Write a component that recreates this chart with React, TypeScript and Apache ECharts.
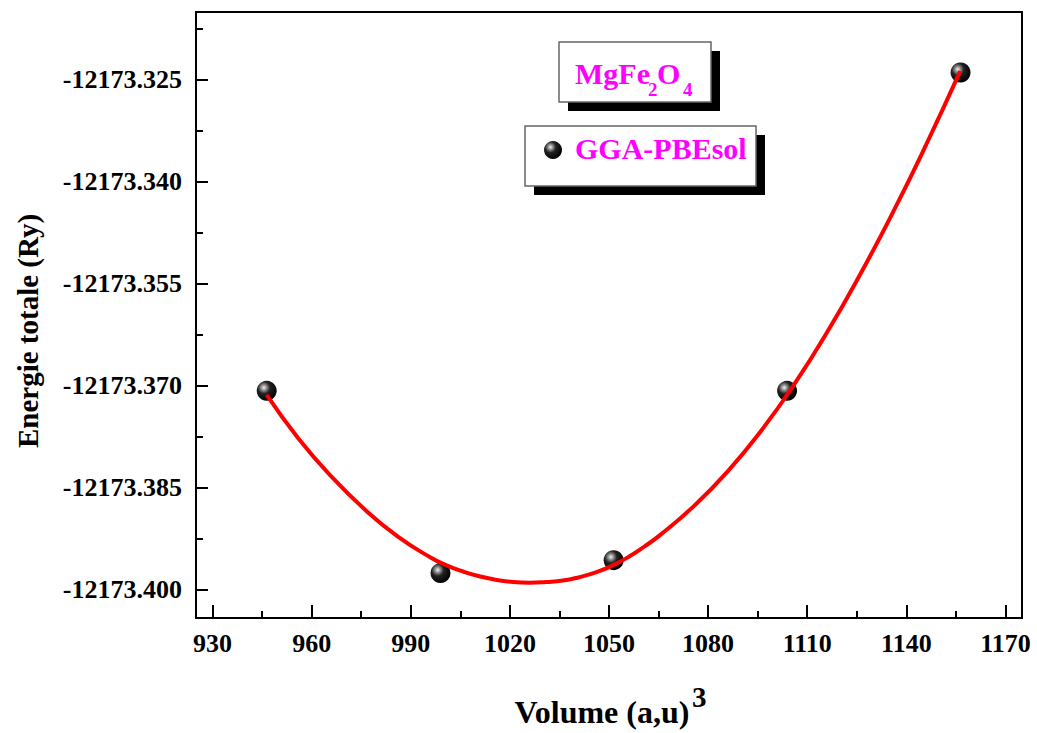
import React, { useEffect, useRef } from "react";
import * as echarts from "echarts";

// Measured points (Volume, Energie totale)
const volumes = [946.4, 999.0, 1051.4, 1103.9, 1156.4];
const energies = [-12173.3708, -12173.3976, -12173.3957, -12173.3708, -12173.324];

// Fitted curve
const fitVolumes = [
  946.4, 956, 966, 976, 986, 996, 1001, 1006, 1011, 1016, 1021, 1026, 1031, 1036,
  1041, 1046, 1051, 1056, 1061, 1066, 1076, 1086, 1096, 1106, 1116, 1126, 1136,
  1146, 1156.3,
];
const fitEnergies = [
  -12173.3714, -12173.3778, -12173.3834, -12173.3882, -12173.3922, -12173.3953,
  -12173.3965, -12173.3974, -12173.3981, -12173.3986, -12173.3989, -12173.399,
  -12173.3989, -12173.3987, -12173.3982, -12173.3975, -12173.3965, -12173.3952,
  -12173.3936, -12173.3918, -12173.3876, -12173.3826, -12173.3767, -12173.3699,
  -12173.3622, -12173.3537, -12173.3445, -12173.3346, -12173.3238,
];

const xMajorTicks = [930, 960, 990, 1020, 1050, 1080, 1110, 1140, 1170];
const xMinorTicks = [945, 975, 1005, 1035, 1065, 1095, 1125, 1155];
const yMajorTicks = [-12173.4, -12173.385, -12173.37, -12173.355, -12173.34, -12173.325];
const yMinorTicks = [-12173.3925, -12173.3775, -12173.3625, -12173.3475, -12173.3325, -12173.3175];

const xMin = 925;
const xMax = 1175;
const yMin = -12173.4042;
const yMax = -12173.3151;

const FONT = "'Liberation Serif', 'Times New Roman', serif";

const sphere = () => ({
  type: "radial",
  x: 0.36,
  y: 0.34,
  r: 0.68,
  colorStops: [
    { offset: 0, color: "#f4f4f4" },
    { offset: 0.18, color: "#9a9a9a" },
    { offset: 0.45, color: "#222222" },
    { offset: 1, color: "#000000" },
  ],
});

export default function App() {
  const ref = useRef<HTMLDivElement>(null);

  useEffect(() => {
    if (!ref.current) return;
    const chart = echarts.init(ref.current, null, { renderer: "svg" });
    const gridRect = { left: 196, right: 15, top: 12, bottom: 115 };
    const labelStyle = {
      fontFamily: FONT,
      fontWeight: "bold",
      fontSize: 26,
      color: "#000",
    };

    const option: any = {
      animation: false,
      backgroundColor: "#fff",
      grid: [
        {
          ...gridRect,
          show: true,
          borderColor: "#000",
          borderWidth: 2,
          backgroundColor: "transparent",
          containLabel: false,
          outerBoundsMode: "none",
        },
        { ...gridRect, show: false, containLabel: false, outerBoundsMode: "none" },
      ],
      xAxis: [
        {
          type: "value",
          gridIndex: 0,
          min: xMin,
          max: xMax,
          position: "bottom",
          axisLine: { show: true, lineStyle: { color: "#000", width: 2 } },
          axisTick: {
            show: true,
            inside: true,
            length: 13,
            lineStyle: { color: "#000", width: 2 },
            customValues: xMajorTicks,
          },
          axisLabel: {
            ...labelStyle,
            margin: 12,
            customValues: xMajorTicks,
            formatter: (v: number) => String(Math.round(v)),
          },
          splitLine: { show: false },
        },
        {
          type: "value",
          gridIndex: 1,
          min: xMin,
          max: xMax,
          position: "bottom",
          axisLine: { show: false },
          axisTick: {
            show: true,
            inside: true,
            length: 7,
            lineStyle: { color: "#000", width: 2 },
            customValues: xMinorTicks,
          },
          axisLabel: { show: false },
          splitLine: { show: false },
        },
      ],
      yAxis: [
        {
          type: "value",
          gridIndex: 0,
          min: yMin,
          max: yMax,
          position: "left",
          axisLine: { show: true, lineStyle: { color: "#000", width: 2 } },
          axisTick: {
            show: true,
            inside: true,
            length: 12,
            lineStyle: { color: "#000", width: 2 },
            customValues: yMajorTicks,
          },
          axisLabel: {
            ...labelStyle,
            margin: 14,
            customValues: yMajorTicks,
            formatter: (v: number) => v.toFixed(3),
          },
          splitLine: { show: false },
        },
        {
          type: "value",
          gridIndex: 1,
          min: yMin,
          max: yMax,
          position: "left",
          axisLine: { show: false },
          axisTick: {
            show: true,
            inside: true,
            length: 7,
            lineStyle: { color: "#000", width: 2 },
            customValues: yMinorTicks,
          },
          axisLabel: { show: false },
          splitLine: { show: false },
        },
      ],
      series: [
        {
          type: "scatter",
          xAxisIndex: 0,
          yAxisIndex: 0,
          z: 2,
          symbol: "circle",
          symbolSize: 20,
          itemStyle: { color: sphere(), opacity: 1 },
          data: volumes.map((v, i) => [v, energies[i]]),
        },
        {
          type: "line",
          xAxisIndex: 0,
          yAxisIndex: 0,
          z: 3,
          smooth: true,
          showSymbol: false,
          symbol: "none",
          lineStyle: { color: "#ff0000", width: 4 },
          data: fitVolumes.map((v, i) => [v, fitEnergies[i]]),
        },
      ],
      graphic: [
        // Box 1 shadow + box
        { type: "rect", shape: { x: 568, y: 51, width: 152, height: 60 }, style: { fill: "#000" }, z: 10 },
        {
          type: "rect",
          shape: { x: 559, y: 42, width: 152, height: 60 },
          style: { fill: "#fff", stroke: "#666", lineWidth: 1.5 },
          z: 11,
        },
        {
          type: "text",
          x: 575,
          y: 73,
          z: 12,
          style: { text: "MgFe", font: `bold 30px ${FONT}`, fill: "#ff00ff", verticalAlign: "middle", align: "left" },
        },
        {
          type: "text",
          x: 648,
          y: 89,
          z: 12,
          style: { text: "2", font: `bold 19px ${FONT}`, fill: "#ff00ff", verticalAlign: "middle", align: "left" },
        },
        {
          type: "text",
          x: 657,
          y: 73,
          z: 12,
          style: { text: "O", font: `bold 30px ${FONT}`, fill: "#ff00ff", verticalAlign: "middle", align: "left" },
        },
        {
          type: "text",
          x: 683,
          y: 89,
          z: 12,
          style: { text: "4", font: `bold 19px ${FONT}`, fill: "#ff00ff", verticalAlign: "middle", align: "left" },
        },
        // Box 2 shadow + box
        { type: "rect", shape: { x: 534, y: 135, width: 231, height: 60 }, style: { fill: "#000" }, z: 10 },
        {
          type: "rect",
          shape: { x: 525, y: 126, width: 231, height: 60 },
          style: { fill: "#fff", stroke: "#666", lineWidth: 1.5 },
          z: 11,
        },
        {
          type: "circle",
          shape: { cx: 553, cy: 150, r: 9 },
          style: { fill: sphere() },
          z: 12,
        },
        {
          type: "text",
          x: 575,
          y: 148,
          z: 12,
          style: { text: "GGA-PBEsol", font: `bold 30px ${FONT}`, fill: "#ff00ff", verticalAlign: "middle", align: "left" },
        },
        // Axis titles
        {
          type: "text",
          x: 28,
          y: 331,
          rotation: Math.PI / 2,
          z: 12,
          style: { text: "Energie totale (Ry)", font: `bold 29px ${FONT}`, fill: "#000", align: "center", verticalAlign: "middle" },
        },
        {
          type: "text",
          x: 602,
          y: 712,
          z: 12,
          style: { text: "Volume (a,u)", font: `bold 32px ${FONT}`, fill: "#000", align: "center", verticalAlign: "middle" },
        },
        {
          type: "text",
          x: 692,
          y: 697,
          z: 12,
          style: { text: "3", font: `bold 29px ${FONT}`, fill: "#000", align: "left", verticalAlign: "middle" },
        },
      ],
    };

    chart.setOption(option);
    return () => chart.dispose();
  }, []);

  return (
    <div
      ref={ref}
      style={{ position: "fixed", left: 0, top: 0, width: 1037, height: 733, background: "#fff" }}
    />
  );
}
